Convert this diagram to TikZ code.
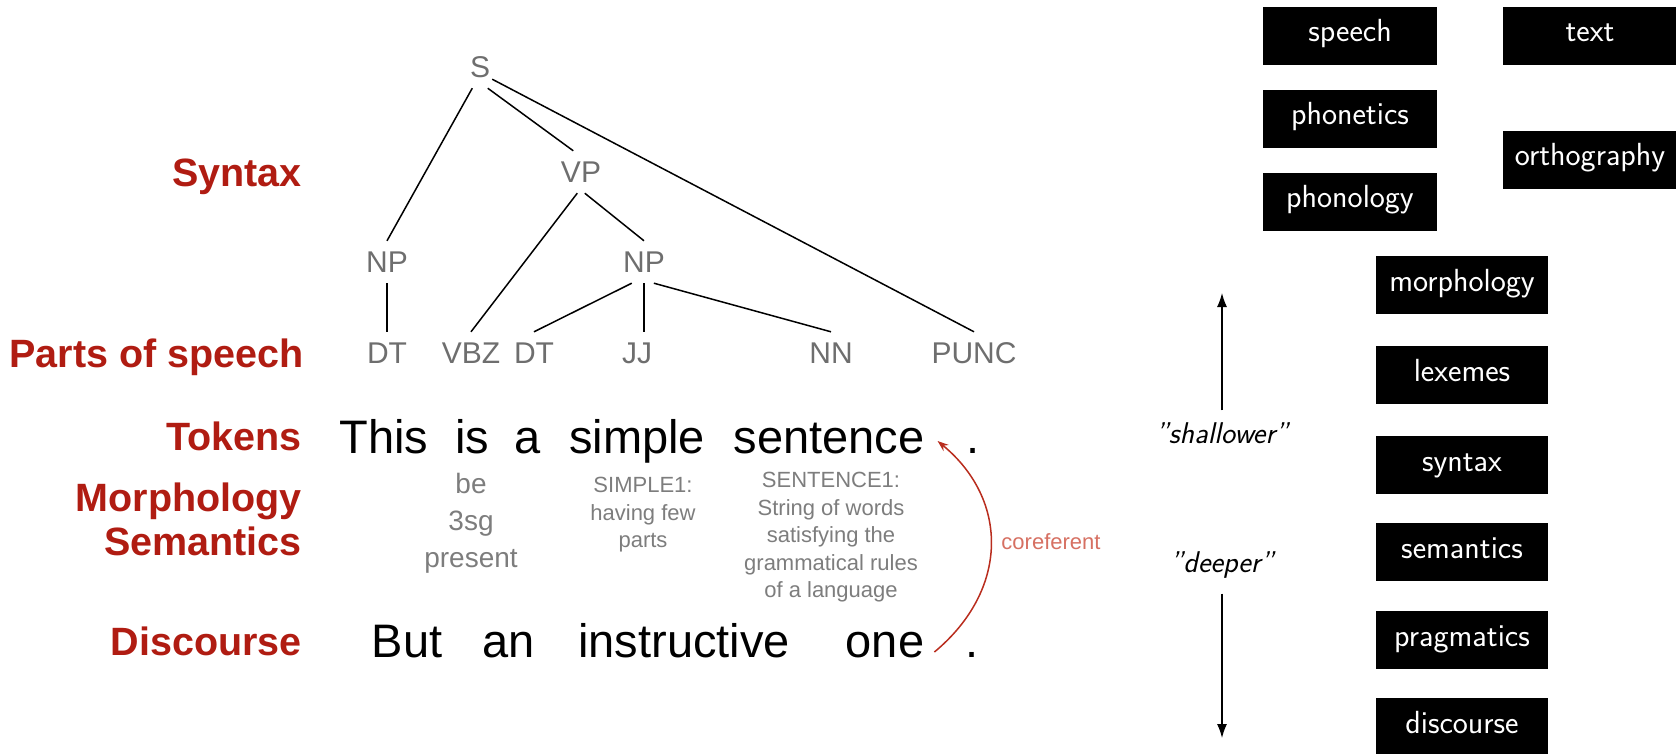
\documentclass[tikz,border=0pt]{standalone}
\usepackage{fontspec}
\newfontfamily\hv{Liberation Sans}
\usetikzlibrary{arrows.meta,calc}
\definecolor{lblred}{RGB}{176,28,18}
\definecolor{treegray}{RGB}{110,110,110}
\definecolor{defgray}{RGB}{125,125,125}
\definecolor{arrred}{RGB}{185,45,30}
\definecolor{corefred}{RGB}{214,112,98}
\tikzset{
  lvl/.style={anchor=base east, inner sep=0pt, text=lblred, font=\hv\bfseries\fontsize{39.5}{41}\selectfont},
  tlab/.style={inner xsep=2pt, inner ysep=0pt, minimum height=42pt, text=treegray, font=\hv\fontsize{30}{32}\selectfont},
  tedge/.style={line width=1.5pt},
  tok/.style={anchor=base, inner sep=0pt, font=\hv\fontsize{47}{50}\selectfont},
  defn/.style={anchor=north, inner sep=0pt, align=center, text=defgray, font=\hv\fontsize{22}{27.5}\selectfont},
  morphdef/.style={anchor=north, inner sep=0pt, align=center, text=defgray, font=\hv\fontsize{28}{37}\selectfont},
  corelab/.style={inner sep=0pt, text=corefred, font=\hv\fontsize{22}{24}\selectfont},
  coref/.style={line width=1.5pt, draw=arrred, -{Stealth[length=11pt,width=8pt]}},
  lbox/.style={fill=black, text=white, minimum width=174pt, minimum height=58pt, inner sep=0pt,
               text height=20pt, text depth=8pt, font=\sffamily\fontsize{32}{34}\selectfont},
  depthlab/.style={inner sep=0pt, font=\sffamily\itshape\fontsize{30}{32}\selectfont\addfontfeature{Ligatures=TeXOff}},
  dirarr/.style={line width=1.3pt, -{Latex[length=14pt,width=10pt]}},
}
\begin{document}
\begin{tikzpicture}[x=1pt,y=-1pt]
\useasboundingbox (0,0) rectangle (1676,754);

% level labels
\node[lvl] (lSyn) at (302,187) {Syntax};
\node[lvl] (lPos) at (304,367) {Parts of speech};
\node[lvl] (lTok) at (302,450) {Tokens};
\node[lvl] (lMor) at (302,511) {Morphology};
\node[lvl] (lSem) at (302,555) {Semantics};
\node[lvl] (lDis) at (302,655) {Discourse};

% tree
\node[tlab] (S)    at (480,67)  {S};
\node[tlab] (VP)   at (581,172) {VP};
\node[tlab] (NPa)  at (387,262) {NP};
\node[tlab] (NPb)  at (644,262) {NP};
\node[tlab] (DTa)  at (387,353) {DT};
\node[tlab] (VBZ)  at (471,353) {VBZ};
\node[tlab] (DTb)  at (534,353) {DT};
\node[tlab] (JJ)   at (637,353) {JJ};
\node[tlab] (NN)   at (831,353) {NN};
\node[tlab] (PUNC) at (974,353) {PUNC};

\draw[tedge] (S.-110) -- (NPa.north);
\draw[tedge] (S.-70) -- (VP.110);
\draw[tedge] (S.-45) -- (PUNC.north);
\draw[tedge] (VP.-100) -- (VBZ.north);
\draw[tedge] (VP.-80) -- (NPb.north);
\draw[tedge] (NPa.south) -- (DTa.north);
\draw[tedge] (NPb.-120) -- (DTb.north);
\draw[tedge] (NPb.south) -- (NPb.south |- JJ.north);
\draw[tedge] (NPb.-65) -- (NN.north);

% tokens
\node[tok] (tThis) at (384,453) {This};
\node[tok] (tIs)   at (472,453) {is};
\node[tok] (tA)    at (528,453) {a};
\node[tok] (tSimple) at (637,453) {simple};
\node[tok] (tSentence) at (829,453) {sentence};
\node[tok] (tDot1) at (973,453) {.};

\node[tok] (tBut) at (407,657) {But};
\node[tok] (tAn)  at (509,657) {an};
\node[tok] (tInstr) at (684,657) {instructive};
\node[tok] (tOne) at (885,657) {one};
\node[tok] (tDot2) at (972,657) {.};

% definitions
\node[morphdef] (dBe) at (471,473) {be\\3sg\\present};
\node[defn] (dSimple) at (643,477) {SIMPLE1:\\having few\\parts};
\node[defn] (dSentence) at (831,472) {SENTENCE1:\\String of words\\satisfying the\\grammatical rules\\of a language};

% coreference
\draw[coref] ([shift={(10,-5)}]tOne.base east) .. controls (1009,590) and (1009,500) .. ([shift={(13,-12)}]tSentence.base east);
\node[corelab] (coreflab) at (1051,542) {coreferent};

% right: depth scale
\node[depthlab] (shallow) at (1222,433) {"shallower"};
\node[depthlab] (deep) at (1222,565) {"deeper"};
\coordinate (uptip) at (1222,293);
\coordinate (downtip) at (1222,738);
\draw[dirarr, shorten <=12pt] (shallow.north) -- (uptip);
\draw[dirarr, shorten <=15pt] (deep.south) -- (downtip);

% right: boxes
\node[lbox] (bSpeech) at (1350,36) {speech};
\node[lbox] (bText) at (1590,36) {text};
\node[lbox] (bPhonetics) at (1350,119) {phonetics};
\node[lbox] (bPhonology) at (1350,202) {phonology};
\node[lbox] (bOrtho) at (1590,160) {orthography};
\node[lbox, minimum width=172pt] (bMorph) at (1462,285) {morphology};
\node[lbox, minimum width=172pt] (bLex) at (1462,375) {lexemes};
\node[lbox, minimum width=172pt] (bSyn) at (1462,465) {syntax};
\node[lbox, minimum width=172pt] (bSem) at (1462,552) {semantics};
\node[lbox, minimum width=172pt] (bPrag) at (1462,640) {pragmatics};
\node[lbox, minimum width=172pt] (bDisc) at (1462,727) {discourse};
\end{tikzpicture}
\end{document}
